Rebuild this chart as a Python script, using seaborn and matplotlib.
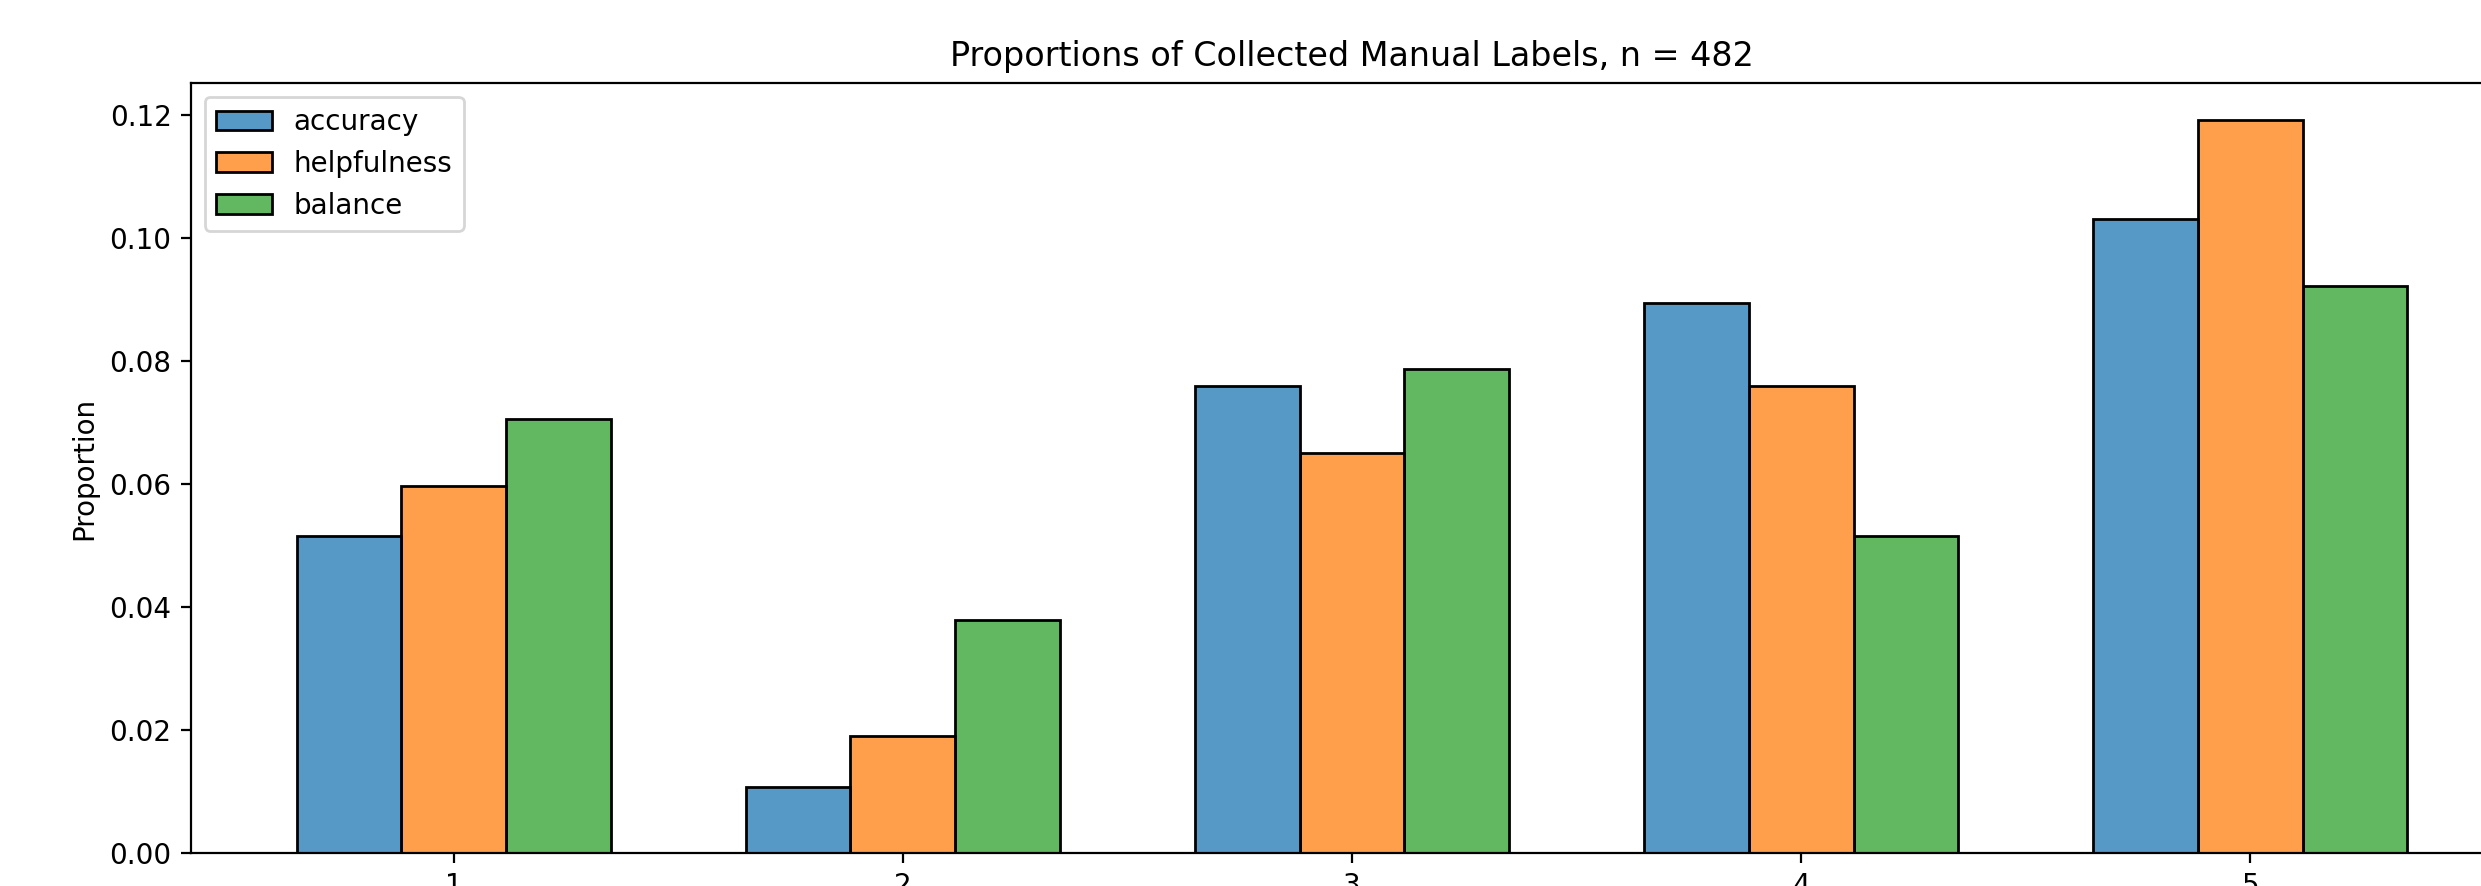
import numpy as np
import pandas as pd
import matplotlib
matplotlib.use("Agg")
import matplotlib.pyplot as plt
import seaborn as sns

# rating values on the x axis and the proportion of each rating per label type
ratings = [1, 2, 3, 4, 5]
label_types = ["accuracy", "helpfulness", "balance"]
accuracy = [0.0515, 0.0108, 0.0759, 0.0894, 0.1030]
helpfulness = [0.0596, 0.0190, 0.0650, 0.0759, 0.1192]
balance = [0.0705, 0.0379, 0.0786, 0.0515, 0.0921]
n_labels = 482

df = pd.DataFrame({
    "rating": ratings * 3,
    "label": np.repeat(label_types, len(ratings)),
    "proportion": accuracy + helpfulness + balance,
})

fig = plt.figure(figsize=(12.405, 4.43), dpi=200)
ax = fig.add_axes([0.0770, 0.0372, 0.9359, 0.8691])

sns.histplot(data=df, x="rating", hue="label", weights="proportion",
             hue_order=label_types, discrete=True, multiple="dodge",
             shrink=0.7, stat="count", edgecolor="black", linewidth=1,
             ax=ax)

ax.set_xticks(ratings)
ax.set_xlabel("")
ax.set_ylabel("Proportion")
ax.set_title(f"Proportions of Collected Manual Labels, n = {n_labels}")
sns.move_legend(ax, "upper left", title=None)

fig.savefig("out.png", dpi=200)
